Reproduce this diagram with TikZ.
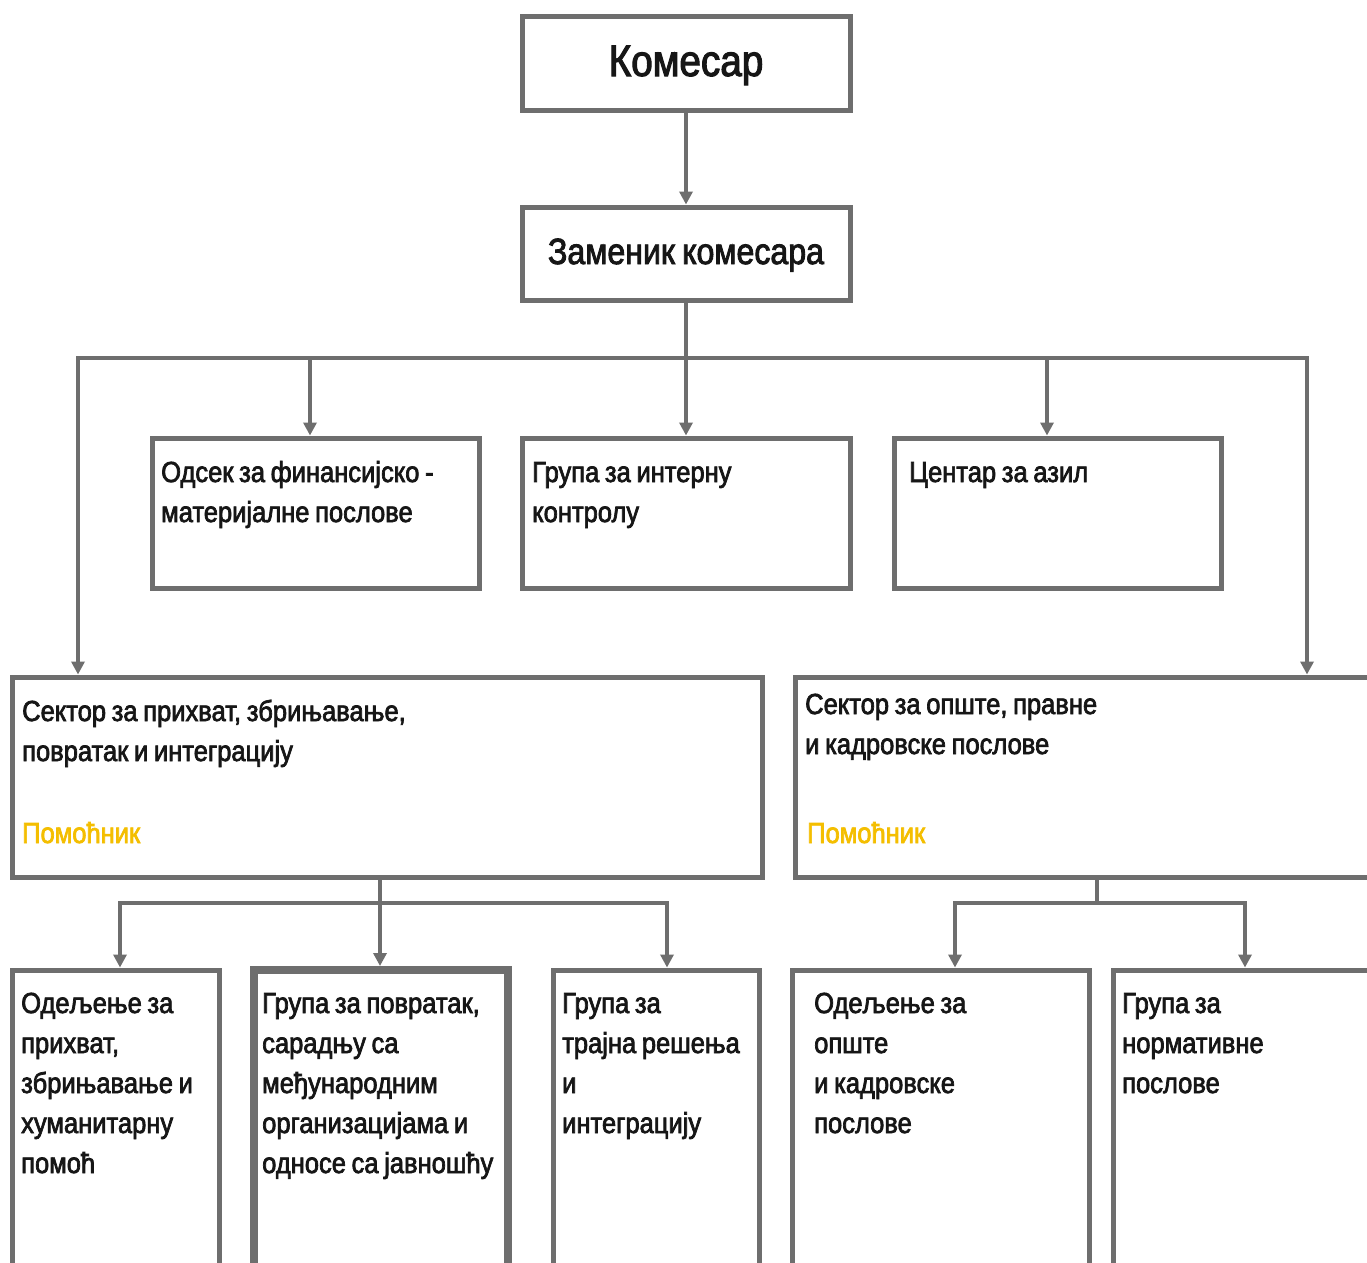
\documentclass[tikz,border=0pt]{standalone}
\usepackage{fontspec}
\setmainfont{Liberation Sans}[FakeStretch=0.88,FakeBold=2.4,WordSpace=0.8]
\usetikzlibrary{arrows.meta}
\definecolor{linegray}{HTML}{6E6E6E}
\definecolor{txt}{HTML}{161616}
\definecolor{gold}{HTML}{F4BE00}
\begin{document}
\begin{tikzpicture}[x=1pt,y=-1pt,
  box/.style={draw=linegray,line width=5pt,fill=white,inner sep=0pt},
  conn/.style={draw=linegray,line width=4.5pt},
  arr/.style={conn,-{Triangle[width=13pt,length=13pt]}},
  lbl/.style={anchor=base west,inner sep=0pt,text=txt,align=flush left,text width=480pt,
    font=\fontsize{29}{40}\selectfont},
  helper/.style={text=gold}]
\useasboundingbox (0,0) rectangle (1367,1262);
\clip (0,0) rectangle (1367,1262);
\fill[white] (0,0) rectangle (1367,1262);
% boxes
\node[box,minimum width=328pt,minimum height=94pt] (kom) at (686,63) {};
\node[box,minimum width=328pt,minimum height=93pt] (zam) at (686,253.5) {};
\node[box,minimum width=327pt,minimum height=150pt] (r2a) at (315.5,513) {};
\node[box,minimum width=328pt,minimum height=150pt] (r2b) at (686,513) {};
\node[box,minimum width=327pt,minimum height=150pt] (r2c) at (1057.5,513) {};
\node[box,minimum width=750pt,minimum height=200pt] (secL) at (387,777) {};
\node[box,minimum width=605pt,minimum height=200pt] (secR) at (1097.5,777) {};
\node[box,minimum width=207pt,minimum height=330pt] (r4a) at (115.5,1135) {};
\node[box,line width=8pt,minimum width=254pt,minimum height=330pt] (r4b) at (381,1135) {};
\node[box,minimum width=206pt,minimum height=330pt] (r4c) at (656,1135) {};
\node[box,minimum width=297pt,minimum height=330pt] (r4d) at (940.5,1135) {};
\node[box,minimum width=287pt,minimum height=330pt] (r4e) at (1256.5,1135) {};
% texts
\node[anchor=base,inner sep=0pt,text=txt,font=\fontsize{44}{50}\selectfont] (tkom) at (686,76) {Комесар};
\node[anchor=base,inner sep=0pt,text=txt,font=\fontsize{36.5}{40}\selectfont] (tzam) at (686,264) {Заменик комесара};
\node[lbl] (t2a) at (161,482) {Одсек за финансијско -\\материјалне послове};
\node[lbl] (t2b) at (532,482) {Група за интерну\\контролу};
\node[lbl] (t2c) at (909,482) {Центар за азил};
\node[lbl] (tsL) at (22,721) {Сектор за прихват, збрињавање,\\повратак и интеграцију};
\node[lbl,helper] (hL) at (22,843) {Помоћник};
\node[lbl] (tsR) at (805,714) {Сектор за опште, правне\\и кадровске послове};
\node[lbl,helper] (hR) at (807,843) {Помоћник};
\node[lbl] (t4a) at (21,1013) {Одељење за\\прихват,\\збрињавање и\\хуманитарну\\помоћ};
\node[lbl] (t4b) at (262,1013) {Група за повратак,\\сарадњу са\\међународним\\организацијама и\\односе са јавношћу};
\node[lbl] (t4c) at (562,1013) {Група за\\трајна решења\\и\\интеграцију};
\node[lbl] (t4d) at (814,1013) {Одељење за\\опште\\и кадровске\\послове};
\node[lbl] (t4e) at (1122,1013) {Група за\\нормативне\\послове};
% connectors
\coordinate (bar) at (686,358);
\coordinate (barL) at (78,358);
\coordinate (barR) at (1307,358);
\coordinate (d1) at (310,358);
\coordinate (d3) at (1047,358);
\draw[arr] (kom.south) -- (zam.north);
\draw[conn] (zam.south) -- (bar);
\draw[conn,line cap=rect] (barL) -- (barR);
\draw[arr] (barL) -- (barL |- secL.north);
\draw[arr] (barR) -- (barR |- secR.north);
\draw[arr] (d1) -- (d1 |- r2a.north);
\draw[arr] (bar) -- (bar |- r2b.north);
\draw[arr] (d3) -- (d3 |- r2c.north);
% left sub tree
\coordinate (sL) at (380,903);
\coordinate (sL1) at (120,903);
\coordinate (sL3) at (667,903);
\draw[conn] (secL.south -| sL) -- (sL);
\draw[conn,line cap=rect] (sL1) -- (sL3);
\draw[arr] (sL1) -- (sL1 |- r4a.north);
\draw[arr] (sL) -- (sL |- r4b.north);
\draw[arr] (sL3) -- (sL3 |- r4c.north);
% right sub tree
\coordinate (sR) at (1097,903);
\coordinate (sR1) at (955,903);
\coordinate (sR2) at (1245,903);
\draw[conn] (secR.south -| sR) -- (sR);
\draw[conn,line cap=rect] (sR1) -- (sR2);
\draw[arr] (sR1) -- (sR1 |- r4d.north);
\draw[arr] (sR2) -- (sR2 |- r4e.north);
\end{tikzpicture}
\end{document}
